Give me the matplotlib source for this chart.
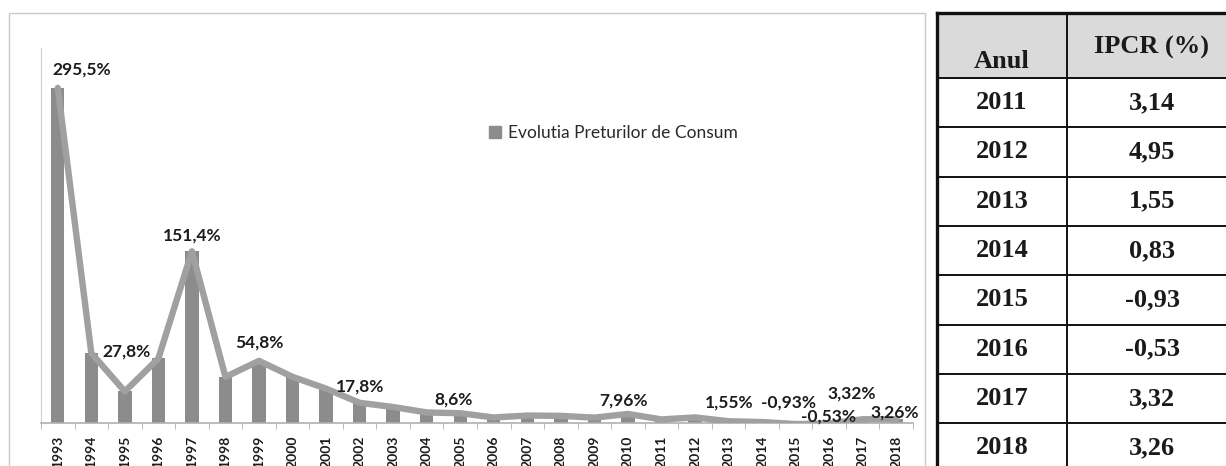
import matplotlib.pyplot as plt
from matplotlib.patches import Rectangle, Patch

# Evolutia preturilor de consum (inflatie anuala, %)
years = [str(y) for y in range(1993, 2019)]
inflation = [295.5, 61.7, 27.8, 56.9, 151.4, 40.6, 54.8, 40.7, 30.3, 17.8,
             14.1, 9.3, 8.6, 4.87, 6.57, 6.3, 4.74, 7.96, 3.14, 4.95,
             1.55, 0.83, -0.93, -0.53, 3.32, 3.26]

# which points carry a data label, and the label text
label_years = ["1993", "1995", "1997", "1999", "2002", "2005",
               "2010", "2013", "2015", "2016", "2017", "2018"]
label_texts = ["295,5%", "27,8%", "151,4%", "54,8%", "17,8%", "8,6%",
               "7,96%", "1,55%", "-0,93%", "-0,53%", "3,32%", "3,26%"]
# label offsets in pixels (dx, dy) from the point
label_offsets = [(24, 18), (2, 40), (0, 16), (0, 18), (0, 16), (-7, 14),
                 (-4, 13), (1, 19), (-7, 22), (-1, 7), (-11, 26), (-2, 7)]

# table on the right
table_years = ["2011", "2012", "2013", "2014", "2015", "2016", "2017", "2018"]
table_ipcr = ["3,14", "4,95", "1,55", "0,83", "-0,93", "-0,53", "3,32", "3,26"]

W, H = 1226, 466
fig = plt.figure(figsize=(W / 100, H / 100), dpi=100)
fig.patch.set_facecolor("white")

bar_color = "#8c8c8c"
line_color = "#a0a0a0"
txt_color = "#1c1c1c"

# chart frame
fig.patches.append(Rectangle((9 / W, -0.05), (925 - 9) / W, 1 - 13 / H + 0.05,
                             transform=fig.transFigure, fill=False,
                             edgecolor="#c8c8c8", lw=1))

ax = fig.add_axes([41 / W, (H - 423) / H, 872 / W, (423 - 48) / H])
x = list(range(len(years)))
ax.bar(x, inflation, width=0.4, color=bar_color, zorder=2,
       label="Evolutia Preturilor de Consum")
ax.plot(x, inflation, color=line_color, lw=4.6, solid_joinstyle="round",
        solid_capstyle="round", zorder=3)

ax.set_xlim(-0.5, len(years) - 0.5)
ax.set_ylim(0, 330.7)
ax.set_yticks([])
ax.set_xticks(x)
ax.set_xticklabels(years, rotation=90, fontsize=10, fontweight="bold",
                   family="Lato", color=txt_color)
ax.tick_params(axis="x", length=0, pad=9)
ax.set_xticks([i - 0.5 for i in range(len(years) + 1)], minor=True)
ax.tick_params(axis="x", which="minor", length=4, color="#b0b0b0", direction="out")
for s in ["top", "right"]:
    ax.spines[s].set_visible(False)
ax.spines["left"].set_color("#cfcfcf")
ax.spines["bottom"].set_color("#b0b0b0")
ax.spines["bottom"].set_linewidth(1.2)
ax.patch.set_alpha(0)

for yr, txt, (dx, dy) in zip(label_years, label_texts, label_offsets):
    i = years.index(yr)
    ax.annotate(txt, (i, inflation[i]), xytext=(dx, dy),
                textcoords="offset pixels", ha="center", va="center",
                fontsize=12.5, fontweight="bold", family="Lato",
                color=txt_color, zorder=5, annotation_clip=False)

fig.legend(handles=[Patch(color=bar_color, label="Evolutia Preturilor de Consum")],
           loc="center left", bbox_to_anchor=(473 / W, 1 - 133 / H),
           frameon=False, handlelength=0.7, handleheight=0.7,
           handletextpad=0.4, prop={"family": "Lato", "size": 12.5},
           labelcolor="#2a2a2a")

# table drawn in pixel coordinates
tx = fig.add_axes([0, 0, 1, 1])
tx.set_xlim(0, W)
tx.set_ylim(H, 0)
tx.axis("off")
tx.patch.set_alpha(0)

left, mid, right = 937, 1067, 1237
top, head_bot, row_h = 13, 78, 49.3
bottom = head_bot + row_h * len(table_years)
tx.add_patch(Rectangle((left, top), right - left, head_bot - top,
                       facecolor="#dadada", edgecolor="none"))
for k in range(len(table_years) + 1):
    yl = head_bot + k * row_h
    tx.plot([left, right], [yl, yl], color="#111111", lw=1.4)
tx.plot([left, right], [top, top], color="#111111", lw=2.4)
tx.plot([left, left], [top, bottom], color="#111111", lw=2.4)
tx.plot([mid, mid], [top, bottom], color="#111111", lw=1.4)
tx.plot([right, right], [top, bottom], color="#111111", lw=2.4)

serif = dict(family="Liberation Serif", fontweight="bold", fontsize=19,
             color="#1a1a1a", ha="center", va="center")
tx.text((left + mid) / 2, 61, "Anul", **serif)
tx.text((mid + right) / 2, 47, "IPCR (%)", **serif)
for k, (yr, val) in enumerate(zip(table_years, table_ipcr)):
    yc = head_bot + (k + 0.5) * row_h
    tx.text((left + mid) / 2, yc, yr, **serif)
    tx.text((mid + right) / 2, yc, val, **serif)

fig.savefig("out.png", dpi=100)
